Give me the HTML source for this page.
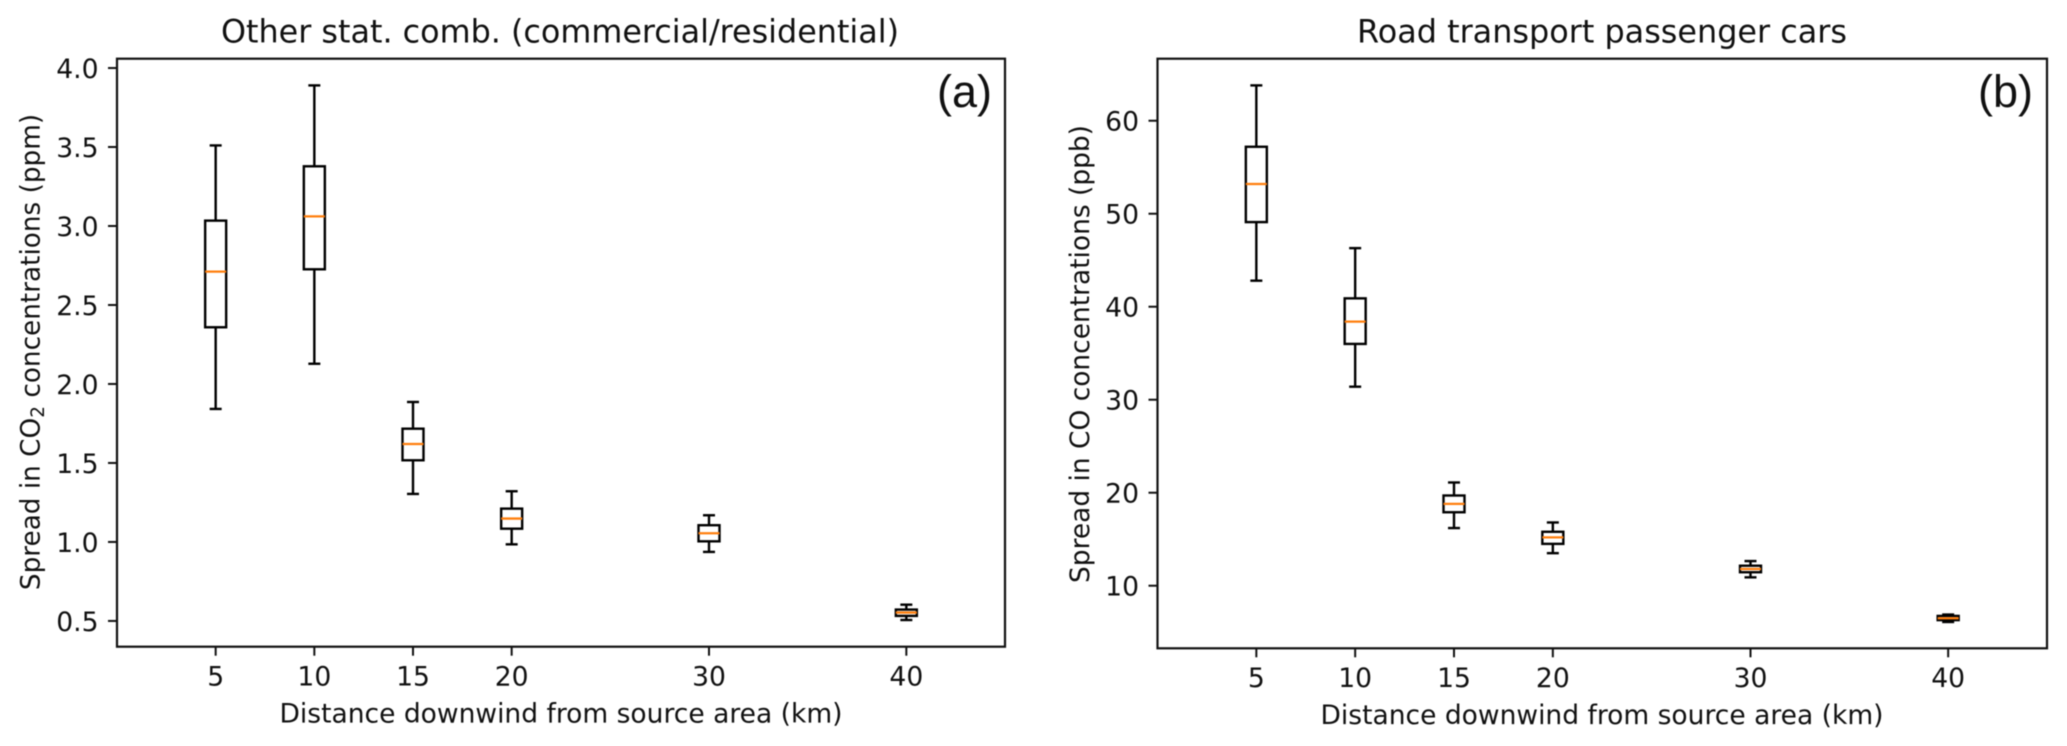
<!DOCTYPE html>
<html lang="en">
<head>
<meta charset="utf-8">
<title>Spread in concentrations vs downwind distance</title>
<style>
  html, body { margin: 0; padding: 0; background: #fff; }
  svg { display: block; filter: blur(0.4px); }
  text { font-family: "DejaVu Sans", "Liberation Sans", sans-serif; fill: #111; }
  .panel-tag { font-family: "Liberation Sans", sans-serif; font-size: 45px; }
  .tick { font-size: 26.6px; }
  .title { font-size: 31.7px; }
  .label { font-size: 26.6px; }
</style>
</head>
<body>
<svg id="figure" xmlns="http://www.w3.org/2000/svg" width="2067" height="746" viewBox="0 0 2067 746">
  <rect x="0" y="0" width="2067" height="746" fill="#ffffff"/>

  <g id="panel-a"></g>
  <g id="panel-b"></g>

  <text class="title" x="560" y="42.5" text-anchor="middle" textLength="678" lengthAdjust="spacingAndGlyphs">Other stat. comb. (commercial/residential)</text>
  <text class="title" x="1602" y="42.5" text-anchor="middle" textLength="490" lengthAdjust="spacingAndGlyphs">Road transport passenger cars</text>

  <text class="panel-tag" x="937" y="107">(a)</text>
  <text class="panel-tag" x="1978" y="107">(b)</text>

  <text class="label" x="561" y="722.5" text-anchor="middle" textLength="563" lengthAdjust="spacingAndGlyphs">Distance downwind from source area (km)</text>
  <text class="label" x="1602" y="724" text-anchor="middle" textLength="563" lengthAdjust="spacingAndGlyphs">Distance downwind from source area (km)</text>

  <text class="label" style="font-size:26.3px" transform="translate(39.5 352) rotate(-90)" text-anchor="middle">Spread in CO<tspan font-size="18.5" dy="4.5">2</tspan><tspan dy="-4.5"> concentrations (ppm)</tspan></text>
  <text class="label" transform="translate(1089 354) rotate(-90)" text-anchor="middle" textLength="458" lengthAdjust="spacingAndGlyphs">Spread in CO concentrations (ppb)</text>
</svg>

<script>
// Shared categories (distance downwind, km)
const distances = [5, 10, 15, 20, 30, 40];
const xTickLabels = ['5', '10', '15', '20', '30', '40'];

// Panel (a): CO2 spread, ppm
const aYTicks = [0.5, 1.0, 1.5, 2.0, 2.5, 3.0, 3.5, 4.0];
const aYTickLabels = ['0.5', '1.0', '1.5', '2.0', '2.5', '3.0', '3.5', '4.0'];
const aWhiskerHigh = [3.51, 3.89, 1.886, 1.321, 1.169, 0.603];
const aQ3 = [3.034, 3.378, 1.717, 1.211, 1.106, 0.572];
const aMedian = [2.711, 3.061, 1.62, 1.148, 1.055, 0.553];
const aQ1 = [2.359, 2.726, 1.517, 1.084, 1.004, 0.532];
const aWhiskerLow = [1.842, 2.128, 1.304, 0.985, 0.937, 0.506];

// Panel (b): CO spread, ppb
const bYTicks = [10, 20, 30, 40, 50, 60];
const bYTickLabels = ['10', '20', '30', '40', '50', '60'];
const bWhiskerHigh = [63.8, 46.3, 21.1, 16.8, 12.65, 6.9];
const bQ3 = [57.2, 40.9, 19.7, 15.8, 12.15, 6.75];
const bMedian = [53.2, 38.4, 18.8, 15.2, 11.8, 6.5];
const bQ1 = [49.1, 36.0, 17.9, 14.5, 11.45, 6.3];
const bWhiskerLow = [42.8, 31.4, 16.2, 13.5, 10.9, 6.1];

const NS = 'http://www.w3.org/2000/svg';

function svgEl(tag, attrs, parent) {
  const el = document.createElementNS(NS, tag);
  for (const k in attrs) el.setAttribute(k, attrs[k]);
  parent.appendChild(el);
  return el;
}

function linearScale(d0, d1, r0, r1) {
  return function (v) { return r0 + (v - d0) * (r1 - r0) / (d1 - d0); };
}

function drawPanel(cfg) {
  const g = document.getElementById(cfg.id);
  const x = linearScale(0, 45, cfg.left, cfg.right);
  const y = linearScale(cfg.yMin, cfg.yMax, cfg.bottom, cfg.top);
  const ink = '#111';

  // y axis ticks
  cfg.yTicks.forEach(function (t, i) {
    const py = y(t);
    const tick = svgEl('line', { x1: cfg.left - 9, x2: cfg.left, y1: py, y2: py, stroke: ink, 'stroke-width': 2 }, g);
    
    
    const lab = svgEl('text', { x: cfg.left - 18.5, y: py + 10, 'text-anchor': 'end', class: 'tick' }, g);
    
    
    lab.textContent = cfg.yTickLabels[i];
  });

  // x axis ticks
  distances.forEach(function (d, i) {
    const px = x(d);
    const tick = svgEl('line', { x1: px, x2: px, y1: cfg.bottom, y2: cfg.bottom + 9, stroke: ink, 'stroke-width': 2 }, g);
    
    
    const lab = svgEl('text', { x: px, y: cfg.bottom + 38.7, 'text-anchor': 'middle', class: 'tick' }, g);
    
    
    lab.textContent = xTickLabels[i];
  });

  // boxes
  distances.forEach(function (d, i) {
    const px = x(d);
    const box = svgEl('g', {}, g);
    
    
    const stroke = { stroke: '#000', 'stroke-width': 2.4, fill: 'none' };
    const hi = y(cfg.whiskerHigh[i]), q3 = y(cfg.q3[i]), med = y(cfg.median[i]),
          q1 = y(cfg.q1[i]), lo = y(cfg.whiskerLow[i]);
    const w1 = svgEl('line', Object.assign({ x1: px, x2: px, y1: q3, y2: hi }, stroke), box);
    
    
    const w2 = svgEl('line', Object.assign({ x1: px, x2: px, y1: q1, y2: lo }, stroke), box);
    
    
    const c1 = svgEl('line', Object.assign({ x1: px - 6, x2: px + 6, y1: hi, y2: hi }, stroke), box);
    
    
    const c2 = svgEl('line', Object.assign({ x1: px - 6, x2: px + 6, y1: lo, y2: lo }, stroke), box);
    
    
    const r = svgEl('rect', Object.assign({ x: px - 10.5, width: 21, y: q3, height: q1 - q3 }, stroke), box);
    
    
    const m = svgEl('line', { x1: px - 10.5, x2: px + 10.5, y1: med, y2: med, stroke: '#ff7f0e', 'stroke-width': 2.3 }, box);
    
    
  });

  // frame
  const frame = svgEl('rect', { x: cfg.left, y: cfg.top, width: cfg.right - cfg.left, height: cfg.bottom - cfg.top, fill: 'none', stroke: '#111', 'stroke-width': 2.2 }, g);
  
  
}

drawPanel({
  id: 'panel-a', left: 117, right: 1005, top: 58.7, bottom: 646.7,
  yMin: 0.337, yMax: 4.059,
  yTicks: aYTicks, yTickLabels: aYTickLabels,
  whiskerHigh: aWhiskerHigh, q3: aQ3, median: aMedian, q1: aQ1, whiskerLow: aWhiskerLow
});
drawPanel({
  id: 'panel-b', left: 1157.5, right: 2047, top: 58.7, bottom: 648.3,
  yMin: 3.27, yMax: 66.67,
  yTicks: bYTicks, yTickLabels: bYTickLabels,
  whiskerHigh: bWhiskerHigh, q3: bQ3, median: bMedian, q1: bQ1, whiskerLow: bWhiskerLow
});
</script>
</body>
</html>
